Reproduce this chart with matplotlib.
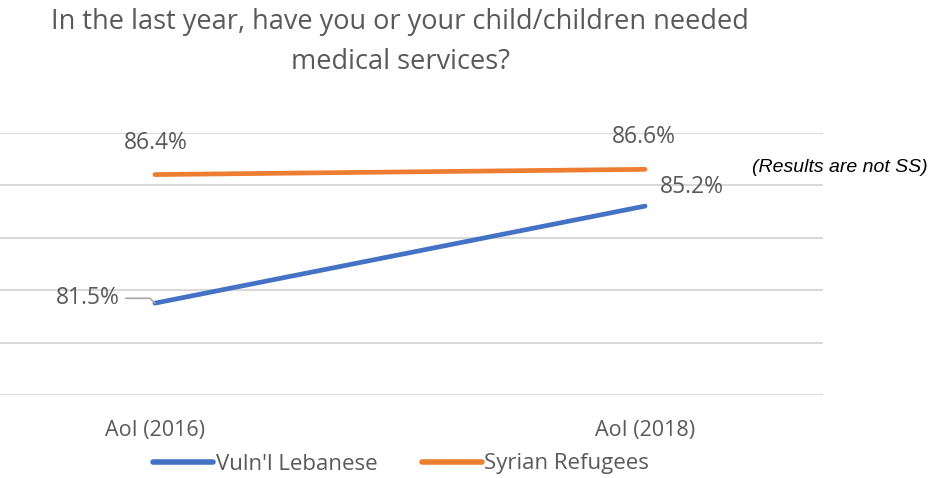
import matplotlib
matplotlib.use('Agg')
import matplotlib.pyplot as plt

# survey waves and the share answering "yes"
waves = ['AoI (2016)', 'AoI (2018)']
lebanese = [81.5, 85.2]
syrian = [86.4, 86.6]

blue = '#4472C4'
orange = '#ED7D31'
grey_text = '#595959'

fig = plt.figure(figsize=(9.31, 4.78), dpi=100)
ax = fig.add_axes([0.0, 0.1736, 0.884, 0.549])

x = list(range(len(waves)))
ax.plot(x, lebanese, color=blue, lw=3.4, solid_capstyle='round', label="Vuln'l Lebanese", zorder=3)
ax.plot(x, syrian, color=orange, lw=3.4, solid_capstyle='round', label='Syrian Refugees', zorder=3)

ax.set_ylim(78, 88)
ax.set_yticks([78, 80, 82, 84, 86, 88])
ax.set_xlim(-0.316, 1.363)
ax.set_xticks(x)
ax.set_xticklabels(waves, fontsize=15.5, color=grey_text, family='Open Sans')
ax.tick_params(axis='x', length=0, pad=18)
ax.tick_params(axis='y', length=0, labelleft=False)
ax.grid(axis='y', color='#d9d9d9', lw=1.5)
ax.set_axisbelow(True)
for s in ax.spines.values():
    s.set_visible(False)

lab = dict(fontsize=16.5, color=grey_text, family='Open Sans', textcoords='offset points')
ax.annotate(f'{syrian[0]}%', (0, syrian[0]), xytext=(1, 22.5), ha='center', va='center', **lab)
ax.annotate(f'{syrian[1]}%', (1, syrian[1]), xytext=(-1, 23.5), ha='center', va='center', **lab)
ax.annotate(f'{lebanese[1]}%', (1, lebanese[1]), xytext=(34, 14), ha='center', va='center', **lab)
ax.annotate(f'{lebanese[0]}%', (0, lebanese[0]), xytext=(-25, 3.5), ha='right', va='center',
            arrowprops=dict(arrowstyle='-', color='#a6a6a6', lw=1.2, shrinkA=2, shrinkB=0,
                            connectionstyle='angle,angleA=0,angleB=-45,rad=0'),
            **lab)

fig.text(0.43, 0.983, 'In the last year, have you or your child/children needed\nmedical services?',
         ha='center', va='top', fontsize=19.5, color=grey_text, family='Open Sans', linespacing=1.58)
fig.text(752 / 931, 1 - 168 / 478, '(Results are not SS)', ha='left', va='center',
         fontsize=14, style='italic', family='Liberation Sans', color='black')

leg = fig.legend(loc='center', bbox_to_anchor=(401 / 931, 1 - 464 / 478), ncol=2, frameon=False,
                 prop={'family': 'Open Sans', 'size': 16}, handlelength=2.7, handletextpad=0.1,
                 columnspacing=2.0)
for t in leg.get_texts():
    t.set_color(grey_text)
for h in leg.get_lines():
    h.set_linewidth(4)

fig.savefig('out.png', dpi=100)
